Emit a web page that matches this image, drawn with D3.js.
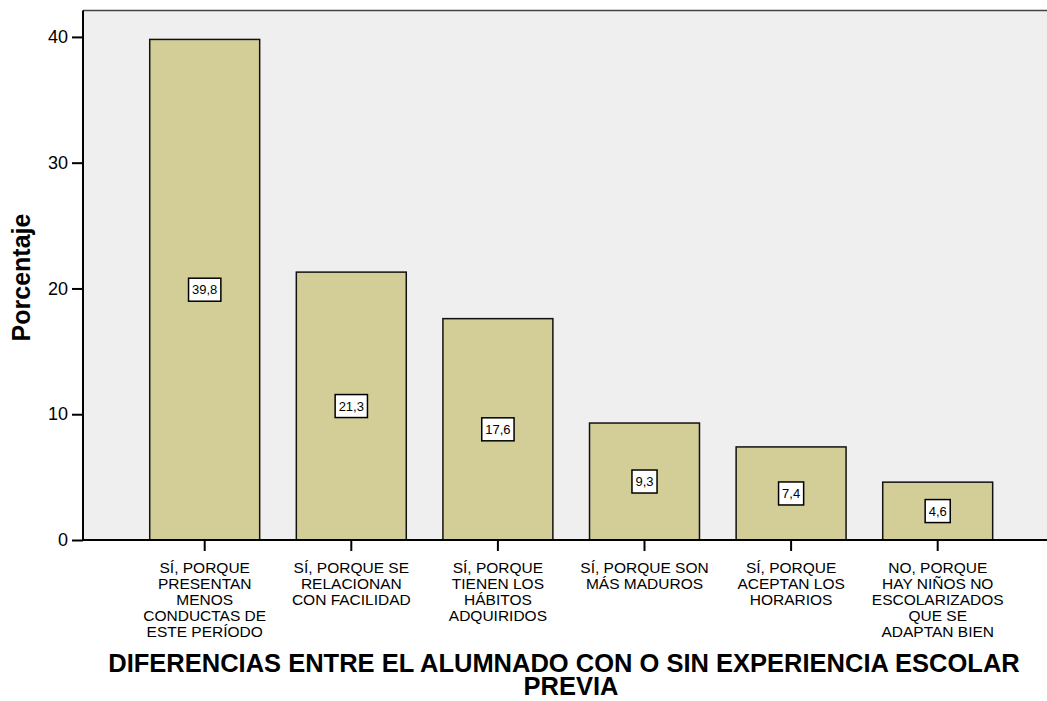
<!DOCTYPE html>
<html>
<head>
<meta charset="utf-8">
<script src="https://cdn.jsdelivr.net/npm/d3@7"></script>
<style>
    body { margin: 0; background: #fff; }
    svg { display: block; font-family: Arial, "Liberation Sans", sans-serif; }
</style>
</head>
<body>
<script>
// categories (already split in lines as on the chart) and percentages
var categories = [
    ["SÍ, PORQUE", "PRESENTAN", "MENOS", "CONDUCTAS DE", "ESTE PERÍODO"],
    ["SÍ, PORQUE SE", "RELACIONAN", "CON FACILIDAD"],
    ["SÍ, PORQUE", "TIENEN LOS", "HÁBITOS", "ADQUIRIDOS"],
    ["SÍ, PORQUE SON", "MÁS MADUROS"],
    ["SÍ, PORQUE", "ACEPTAN LOS", "HORARIOS"],
    ["NO, PORQUE", "HAY NIÑOS NO", "ESCOLARIZADOS", "QUE SE", "ADAPTAN BIEN"]
];
var values = [39.8, 21.3, 17.6, 9.3, 7.4, 4.6];
var yTicks = [0, 10, 20, 30, 40];
var yTitle = "Porcentaje";
var xTitle = ["DIFERENCIAS ENTRE EL ALUMNADO CON O SIN EXPERIENCIA ESCOLAR", "PREVIA"];

var width = 1047, height = 701;
var plot = {left: 83, top: 10.5, right: 1048, bottom: 540};

var svg = d3.select("body").append("svg")
    .attr("width", width)
    .attr("height", height);

var keys = d3.range(values.length);

var x = d3.scaleBand()
    .domain(keys)
    .range([131.4, 1011])
    .paddingInner(0.25)
    .paddingOuter(0.125);

var y = d3.scaleLinear()
    .domain([0, 42.1])
    .range([plot.bottom, plot.top]);

// plot background
svg.append("rect")
    .attr("x", plot.left)
    .attr("y", plot.top)
    .attr("width", plot.right - plot.left)
    .attr("height", plot.bottom - plot.top)
    .style("fill", "#efefef");

svg.append("line")
    .attr("x1", plot.left).attr("x2", plot.right)
    .attr("y1", plot.top).attr("y2", plot.top)
    .style("stroke", "#444")
    .style("stroke-width", "1.5px");

// bars
svg.selectAll(".bar")
    .data(values)
    .enter()
    .append("rect")
    .attr("class", "bar")
    .attr("x", function(d, i){ return x(i); })
    .attr("y", function(d){ return y(d); })
    .attr("width", x.bandwidth())
    .attr("height", function(d){ return y(0) - y(d); })
    .style("fill", "#d3ce98")
    .style("stroke", "#111")
    .style("stroke-width", "1.5px");

// value boxes in the middle of each bar
var lab = svg.selectAll(".val")
    .data(values)
    .enter()
    .append("g")
    .attr("class", "val")
    .attr("transform", function(d, i){
        return "translate(" + (x(i) + x.bandwidth() / 2) + "," + y(d / 2) + ")";
    });

lab.append("text")
    .text(function(d){ return d.toFixed(1).replace(".", ","); })
    .attr("text-anchor", "middle")
    .attr("dy", "0.36em")
    .style("font-size", "13px")
    .style("fill", "#000")
    .each(function(){
        var bb = this.getBBox();
        d3.select(this.parentNode).insert("rect", "text")
            .attr("x", bb.x - 3.5)
            .attr("y", -11.5)
            .attr("width", bb.width + 7)
            .attr("height", 23)
            .style("fill", "#fff")
            .style("stroke", "#000")
            .style("stroke-width", "1.5px");
    });

// y axis
var yAxis = d3.axisLeft(y)
    .tickValues(yTicks)
    .tickSize(11)
    .tickPadding(4)
    .tickSizeOuter(0);

var gy = svg.append("g")
    .attr("transform", "translate(" + plot.left + ",0)")
    .call(yAxis);
gy.select(".domain").attr("d", "M0," + plot.top + "V" + plot.bottom)
    .style("stroke", "#000").style("stroke-width", "2px");
gy.selectAll(".tick line").style("stroke", "#000").style("stroke-width", "2px");
gy.selectAll(".tick text")
    .style("font-size", "18px")
    .style("font-family", "Arial, 'Liberation Sans', sans-serif")
    .style("fill", "#000");

// x axis
var xAxis = d3.axisBottom(x)
    .tickSize(11)
    .tickSizeOuter(0)
    .tickFormat("");

var gx = svg.append("g")
    .attr("transform", "translate(0," + plot.bottom + ")")
    .call(xAxis);
gx.select(".domain").attr("d", "M" + plot.left + ",0H" + plot.right)
    .style("stroke", "#000").style("stroke-width", "2px");
gx.selectAll(".tick line").style("stroke", "#000").style("stroke-width", "2px");

gx.selectAll(".tick")
    .append("text")
    .attr("text-anchor", "middle")
    .style("font-size", "15.5px")
    .style("fill", "#000")
    .selectAll("tspan")
    .data(function(d){ return categories[d]; })
    .enter()
    .append("tspan")
    .attr("x", 0)
    .attr("y", function(d, i){ return 33 + i * 15.9; })
    .text(function(d){ return d; });

// axis titles
svg.append("text")
    .attr("transform", "translate(30,277.5) rotate(-90)")
    .attr("text-anchor", "middle")
    .style("font-size", "25px")
    .style("font-weight", "bold")
    .text(yTitle);

svg.append("text")
    .attr("text-anchor", "middle")
    .style("font-size", "25.5px")
    .style("font-weight", "bold")
    .selectAll("tspan")
    .data(xTitle)
    .enter()
    .append("tspan")
    .attr("x", function(d, i){ return i == 0 ? 564 : 571; })
    .attr("y", function(d, i){ return 672 + i * 23; })
    .text(function(d){ return d; });
</script>
</body>
</html>
